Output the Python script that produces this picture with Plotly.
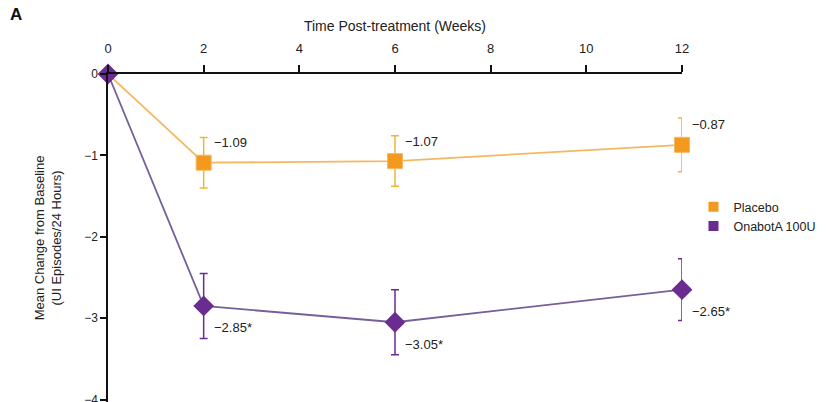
import plotly.graph_objects as go

# Study visits (weeks post-treatment)
weeks = [0, 2, 6, 12]

# Mean change from baseline in UI episodes / 24 h (no error at baseline)
placebo_mean = [0, -1.09, -1.07, -0.87]
placebo_err = [None, 0.31, 0.31, 0.33]
onabota_mean = [0, -2.85, -3.05, -2.65]
onabota_err = [None, 0.40, 0.40, 0.38]

# Value labels (asterisk = significant vs placebo)
placebo_labels = ["", "−1.09", "−1.07", "−0.87"]
onabota_labels = ["", "−2.85*", "−3.05*", "−2.65*"]

series_names = ["Placebo", "OnabotA 100U"]

ORANGE = "#F39A1E"
ORANGE_LINE = "#F4B862"
ORANGE_ERR = "#EDB53A"
PURPLE = "#6A2C91"
PURPLE_LINE = "#75609A"
FONT = "Liberation Sans, Arial, sans-serif"

fig = go.Figure()

fig.add_trace(go.Scatter(
    x=weeks, y=placebo_mean, mode="lines+markers",
    line=dict(color=ORANGE_LINE, width=1.8),
    marker=dict(symbol="square", size=[8, 15, 15, 15], color=ORANGE, opacity=1),
    error_y=dict(type="data", array=placebo_err, color=ORANGE_ERR, thickness=1.5, width=4),
    showlegend=False, cliponaxis=False,
))
fig.add_trace(go.Scatter(
    x=weeks, y=onabota_mean, mode="lines+markers",
    line=dict(color=PURPLE_LINE, width=1.8),
    marker=dict(symbol="diamond", size=16, color=PURPLE, opacity=1),
    error_y=dict(type="data", array=onabota_err, color=PURPLE, thickness=1.5, width=4),
    showlegend=False, cliponaxis=False,
))

# Legend entries with square swatches
for name, col in zip(series_names, [ORANGE, PURPLE]):
    fig.add_trace(go.Scatter(
        x=[None], y=[None], mode="markers", name=name,
        marker=dict(symbol="square", size=10, color=col),
    ))

# Value labels next to each point
for x, y, t in zip(weeks, placebo_mean, placebo_labels):
    if t:
        fig.add_annotation(x=x, y=y, text=t, showarrow=False, xanchor="left",
                           yanchor="middle", xshift=8, yshift=20,
                           font=dict(family=FONT, size=13, color="#222"))
for x, y, t in zip(weeks, onabota_mean, onabota_labels):
    if t:
        fig.add_annotation(x=x, y=y, text=t, showarrow=False, xanchor="left",
                           yanchor="middle", xshift=8, yshift=-22,
                           font=dict(family=FONT, size=13, color="#222"))

fig.add_annotation(x=0, y=1, xref="paper", yref="paper", xanchor="left", yanchor="top",
                   text="<b>A</b>", showarrow=False, xshift=-100, yshift=71,
                   font=dict(family=FONT, size=17, color="#111"))

fig.update_layout(
    width=838, height=402,
    margin=dict(l=108, r=156, t=74, b=0),
    plot_bgcolor="white", paper_bgcolor="white",
    font=dict(family=FONT, size=12, color="#222"),
    legend=dict(x=1.02, y=0.565, xanchor="left", yanchor="middle",
                font=dict(family=FONT, size=12.5, color="#222"),
                itemwidth=30, tracegroupgap=0, bgcolor="rgba(0,0,0,0)"),
    xaxis=dict(
        side="top", range=[0, 12], tickvals=[0, 2, 4, 6, 8, 10, 12],
        showline=True, linecolor="#111", linewidth=1.5, showgrid=False, zeroline=False,
        ticks="outside", ticklen=7, tickwidth=1.5, tickcolor="#111",
        ticklabelstandoff=7, automargin=False,
        tickfont=dict(family=FONT, size=13),
        title=dict(text="Time Post-treatment (Weeks)", standoff=6,
                   font=dict(family=FONT, size=14)),
    ),
    yaxis=dict(
        range=[-4.03, 0], tickvals=[0, -1, -2, -3, -4],
        ticktext=["0", "−1", "−2", "−3", "−4"],
        ticklabeloverflow="allow", automargin=False,
        showline=True, linecolor="#111", linewidth=1.5, showgrid=False, zeroline=False,
        ticks="outside", ticklen=6, tickwidth=1.5, tickcolor="#111",
        tickfont=dict(family=FONT, size=12),
        title=dict(text="Mean Change from Baseline<br>(UI Episodes/24 Hours)", standoff=20,
                   font=dict(family=FONT, size=13)),
    ),
)

fig.write_html("out.html")
